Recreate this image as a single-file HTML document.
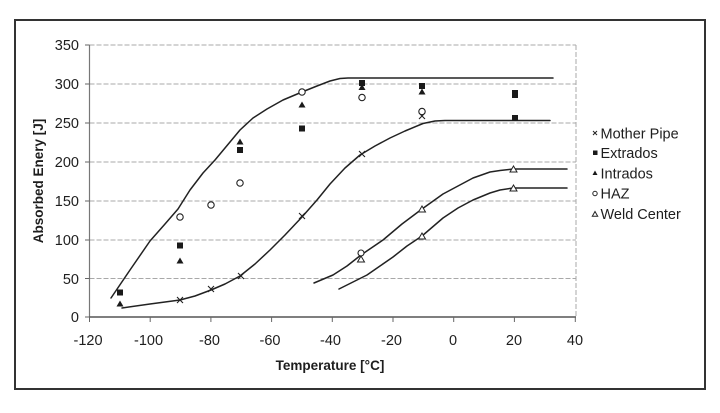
<!DOCTYPE html>
<html>
<head>
<meta charset="utf-8">
<style>
  html, body { margin: 0; padding: 0; background: #fff; }
  svg { display: block; }
  text { font-family: "Liberation Sans", Arial, sans-serif; fill: #1e1e1e; }
</style>
</head>
<body>
<svg width="720" height="413" viewBox="0 0 720 413" xmlns="http://www.w3.org/2000/svg">
  <rect x="0" y="0" width="720" height="413" fill="#ffffff"/>
  <!-- outer frame -->
  <rect x="15" y="20" width="690" height="369" fill="none" stroke="#333" stroke-width="2"/>

  <!-- gridlines -->
  <g stroke="#a8a8a8" stroke-width="1" stroke-dasharray="5,2" fill="none">
    <line x1="89.5" y1="45" x2="576" y2="45"/>
    <line x1="89.5" y1="84" x2="576" y2="84"/>
    <line x1="89.5" y1="123" x2="576" y2="123"/>
    <line x1="89.5" y1="162" x2="576" y2="162"/>
    <line x1="89.5" y1="201" x2="576" y2="201"/>
    <line x1="89.5" y1="240" x2="576" y2="240"/>
    <line x1="89.5" y1="278.5" x2="576" y2="278.5"/>
    <line x1="576" y1="45" x2="576" y2="317"/>
  </g>
  <!-- axes -->
  <line x1="89.5" y1="45" x2="89.5" y2="317" stroke="#777" stroke-width="1.2"/>
  <line x1="89.5" y1="317" x2="576" y2="317" stroke="#555" stroke-width="1.5"/>
  <g stroke="#666" stroke-width="1">
    <line x1="85" y1="45" x2="89.5" y2="45"/>
    <line x1="85" y1="84" x2="89.5" y2="84"/>
    <line x1="85" y1="123" x2="89.5" y2="123"/>
    <line x1="85" y1="162" x2="89.5" y2="162"/>
    <line x1="85" y1="201" x2="89.5" y2="201"/>
    <line x1="85" y1="240" x2="89.5" y2="240"/>
    <line x1="85" y1="278.5" x2="89.5" y2="278.5"/>
    <line x1="85" y1="317" x2="89.5" y2="317"/>
    <line x1="89.5" y1="317" x2="89.5" y2="322"/>
    <line x1="150.2" y1="317" x2="150.2" y2="322"/>
    <line x1="210.9" y1="317" x2="210.9" y2="322"/>
    <line x1="271.6" y1="317" x2="271.6" y2="322"/>
    <line x1="332.3" y1="317" x2="332.3" y2="322"/>
    <line x1="393" y1="317" x2="393" y2="322"/>
    <line x1="453.7" y1="317" x2="453.7" y2="322"/>
    <line x1="514.4" y1="317" x2="514.4" y2="322"/>
    <line x1="575.3" y1="317" x2="575.3" y2="322"/>
  </g>

  <!-- y tick labels -->
  <g font-size="14.5" text-anchor="end">
    <text x="79" y="50">350</text>
    <text x="79" y="89">300</text>
    <text x="79" y="128">250</text>
    <text x="79" y="167">200</text>
    <text x="79" y="206">150</text>
    <text x="79" y="245">100</text>
    <text x="79" y="284">50</text>
    <text x="79" y="322">0</text>
  </g>
  <!-- x tick labels -->
  <g font-size="14.5" text-anchor="middle">
    <text x="88" y="345">-120</text>
    <text x="148.5" y="345">-100</text>
    <text x="209.5" y="345">-80</text>
    <text x="270" y="345">-60</text>
    <text x="330.5" y="345">-40</text>
    <text x="391.5" y="345">-20</text>
    <text x="453" y="345">0</text>
    <text x="514" y="345">20</text>
    <text x="575" y="345">40</text>
  </g>

  <!-- axis titles -->
  <text x="330" y="370" font-size="13.5" font-weight="bold" text-anchor="middle">Temperature [°C]</text>
  <text transform="translate(43,181) rotate(-90)" font-size="13.5" font-weight="bold" text-anchor="middle">Absorbed Enery [J]</text>

  <!-- fitted curves -->
  <g fill="none" stroke="#222" stroke-width="1.5" stroke-linejoin="round" stroke-linecap="round">
    <polyline points="111,298 130,270 150,241 165,224 178,209 190,190 203,173 215,160 230,142 240,130 253,118 267,109 283,100 302,92 317,86 330,81 340,78.5 348,78 553,78"/>
    <polyline points="122,308 150,304 180,300 195,296 211,290 225,284 240,276 255,264 270,250 285,235 302,217 317,200 330,184 345,168 360,155 375,146 390,138 405,131 423,123.5 435,121 445,120.5 550,120.5"/>
    <polyline points="314,283 333,275 347,266 361,255 383,240 402,224 422,209 443,194 458,186 473,178 490,172 500,170.5 513,169 567,169"/>
    <polyline points="339,289 355,281 367,275 380,266 393,257 407,246 422,236 443,218 458,208 473,200 490,193 500,190 513,188 567,188"/>
  </g>

  <!-- Mother Pipe (x) -->
  <g stroke="#222" stroke-width="1.1">
    <path d="M177,297 l6,6 M183,297 l-6,6"/>
    <path d="M208,286 l6,6 M214,286 l-6,6"/>
    <path d="M238,273 l6,6 M244,273 l-6,6"/>
    <path d="M299,213 l6,6 M305,213 l-6,6"/>
    <path d="M359,151 l6,6 M365,151 l-6,6"/>
    <path d="M419,113 l6,6 M425,113 l-6,6"/>
  </g>

  <!-- Extrados (filled squares) -->
  <g fill="#1a1a1a">
    <rect x="117" y="289.5" width="6" height="6"/>
    <rect x="177" y="242.5" width="6" height="6"/>
    <rect x="237" y="147" width="6" height="6"/>
    <rect x="299" y="125.5" width="6" height="6"/>
    <rect x="359" y="80" width="6" height="6"/>
    <rect x="419" y="83" width="6" height="6"/>
    <rect x="512" y="90" width="6" height="8"/>
    <rect x="512" y="115" width="6" height="6"/>
  </g>

  <!-- Intrados (filled triangles) -->
  <g fill="#1a1a1a">
    <path d="M120,300.5 l3.5,6 h-7 z"/>
    <path d="M180,257.5 l3.5,6 h-7 z"/>
    <path d="M240,138.5 l3.5,6 h-7 z"/>
    <path d="M302,101.5 l3.5,6 h-7 z"/>
    <path d="M362,84 l3.5,6 h-7 z"/>
    <path d="M422,88.5 l3.5,6 h-7 z"/>
  </g>

  <!-- HAZ (open circles) -->
  <g fill="#fff" stroke="#222" stroke-width="1.1">
    <circle cx="180" cy="217" r="3.2"/>
    <circle cx="211" cy="205" r="3.2"/>
    <circle cx="240" cy="183" r="3.2"/>
    <circle cx="302" cy="92" r="3.2"/>
    <circle cx="362" cy="97.5" r="3.2"/>
    <circle cx="422" cy="111.5" r="3.2"/>
    <circle cx="361" cy="253" r="3"/>
  </g>

  <!-- Weld Center / hollow triangles -->
  <g fill="#fff" stroke="#222" stroke-width="1">
    <path d="M361,256 l3.5,6 h-7 z"/>
    <path d="M422,206 l3.5,6 h-7 z"/>
    <path d="M422,233 l3.5,6 h-7 z"/>
    <path d="M513.5,166 l3.5,6 h-7 z"/>
    <path d="M513.5,185 l3.5,6 h-7 z"/>
  </g>

  <!-- legend -->
  <g stroke="#222" stroke-width="1">
    <path d="M593,131 l4,4 M597,131 l-4,4"/>
  </g>
  <rect x="593" y="150.5" width="4.5" height="4.5" fill="#1a1a1a"/>
  <path d="M595,170.5 l2.5,4.5 h-5 z" fill="#1a1a1a"/>
  <circle cx="595" cy="193.5" r="2.2" fill="#fff" stroke="#222" stroke-width="1"/>
  <path d="M595,211.5 l2.7,4.8 h-5.4 z" fill="#fff" stroke="#222" stroke-width="1"/>
  <g font-size="14.5">
    <text x="600.5" y="138.5">Mother Pipe</text>
    <text x="600.5" y="158">Extrados</text>
    <text x="600.5" y="178.5">Intrados</text>
    <text x="600.5" y="198.5">HAZ</text>
    <text x="600.5" y="219">Weld Center</text>
  </g>
</svg>
</body>
</html>
